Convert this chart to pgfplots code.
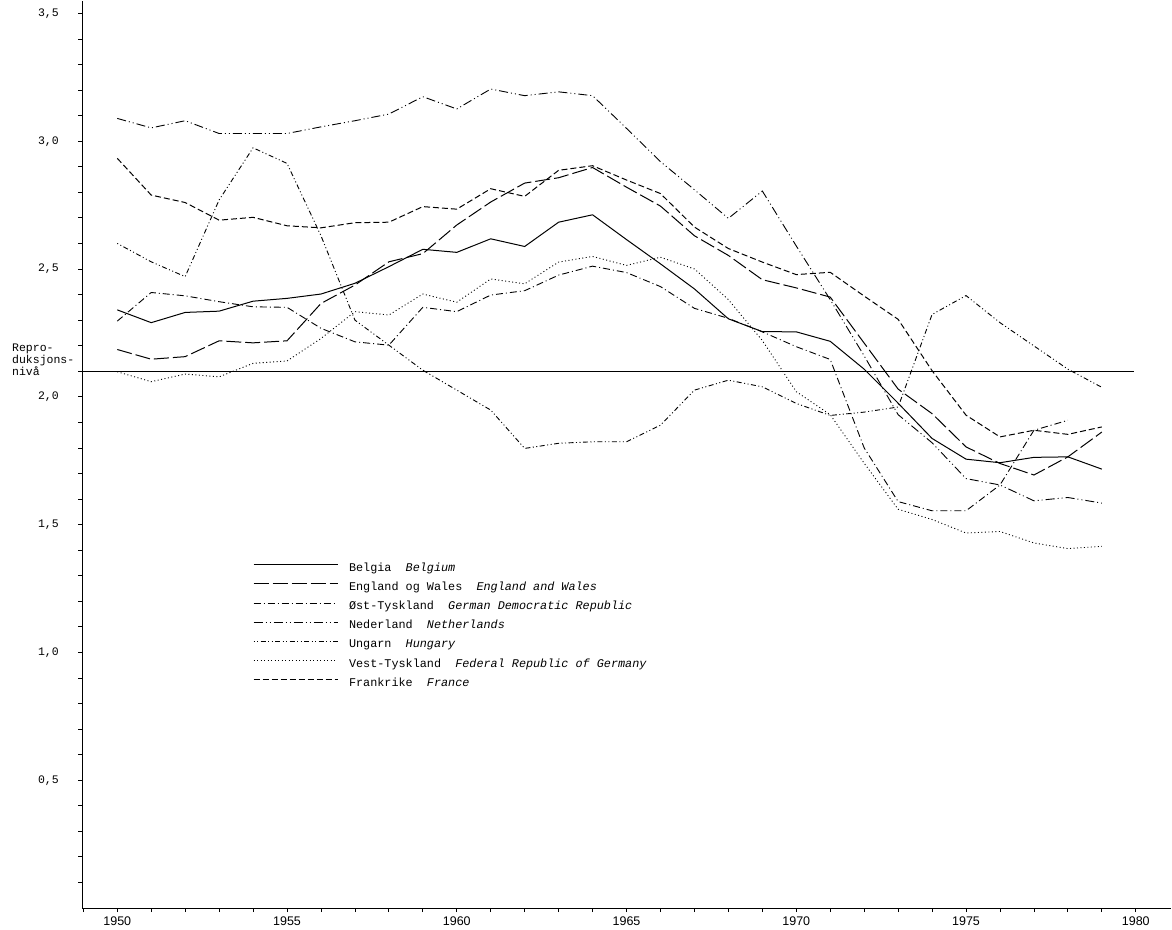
\documentclass[border=0pt]{standalone}
\usepackage{fontspec}
\newfontfamily\tw{Liberation Mono}
\newfontfamily\lsans{Liberation Sans}
\usepackage{pgfplots}
\pgfplotsset{compat=1.18}
\usepackage{pgfplotstable}

\pgfplotstableread{
year be    ew    gdr   nl    hu    wg    fr
1950 2.340 2.185 2.296 3.089 2.600 2.098 2.933
1951 2.290 2.147 2.408 3.052 2.528 2.059 2.789
1952 2.330 2.157 2.395 3.080 2.470 2.089 2.760
1953 2.335 2.219 2.372 3.030 2.770 2.078 2.691
1954 2.374 2.211 2.352 3.030 2.974 2.131 2.702
1955 2.385 2.219 2.350 3.030 2.913 2.140 2.669
1956 2.402 2.365 2.268 3.056 2.630 2.228 2.661
1957 2.444 2.437 2.215 3.080 2.300 2.333 2.681
1958 2.509 2.528 2.202 3.106 2.202 2.320 2.683
1959 2.577 2.560 2.350 3.174 2.104 2.402 2.744
1960 2.565 2.672 2.333 3.126 2.026 2.370 2.734
1961 2.618 2.762 2.398 3.204 1.948 2.461 2.814
1962 2.588 2.836 2.415 3.178 1.798 2.442 2.784
1963 2.683 2.857 2.476 3.193 1.818 2.527 2.886
1964 2.712 2.897 2.511 3.178 1.824 2.549 2.904
1965 2.615 2.820 2.486 3.050 1.824 2.514 2.848
1966 2.520 2.746 2.431 2.920 1.889 2.546 2.795
1967 2.422 2.630 2.346 2.810 2.026 2.500 2.664
1968 2.305 2.553 2.307 2.698 2.065 2.380 2.580
1969 2.255 2.458 2.254 2.805 2.039 2.220 2.527
1970 2.254 2.426 2.196 2.590 1.974 2.020 2.478
1971 2.217 2.390 2.146 2.380 1.927 1.930 2.487
1972 2.108 2.210 1.800 2.160 1.940 1.740 2.394
1973 1.975 2.030 1.590 1.930 1.960 1.560 2.303
1974 1.837 1.934 1.554 1.820 2.322 1.520 2.102
1975 1.756 1.804 1.554 1.680 2.396 1.467 1.928
1976 1.742 1.739 1.655 1.655 2.290 1.473 1.843
1977 1.763 1.694 1.869 1.593 2.199 1.428 1.869
1978 1.765 1.765 1.908 1.606 2.108 1.406 1.853
1979 1.717 1.862 nan   1.584 2.037 1.415 1.882
}\data

\begin{document}
\begin{tikzpicture}
\begin{axis}[
  scale only axis, width=1089.1pt, height=907.4pt,
  xmin=1948.97, xmax=1981.05, ymin=0, ymax=3.55,
  axis x line=bottom, axis y line=left,
  axis line style={-, line width=1pt, black},
  xtick={1950,1955,...,1980},
  xticklabels={1950,1955,1960,1965,1970,1975,1980},
  minor xtick={1949,1951,1952,1953,1954,1956,1957,1958,1959,1961,1962,1963,1964,1966,1967,1968,1969,1971,1972,1973,1974,1976,1977,1978,1979},
  ytick={0.5,1,1.5,2,2.5,3,3.5},
  yticklabels={{0,5},{1,0},{1,5},{2,0},{2,5},{3,0},{3,5}},
  minor ytick={0.1,0.2,0.3,0.4,0.6,0.7,0.8,0.9,1.1,1.2,1.3,1.4,1.6,1.7,1.8,1.9,2.1,2.2,2.3,2.4,2.6,2.7,2.8,2.9,3.1,3.2,3.3,3.4},
  tick align=outside, major tick length=4pt, minor tick length=4pt,
  tick style={black, line width=0.8pt},
  xticklabel style={font=\lsans\fontsize{12.5}{13}\selectfont, yshift=-1pt},
  yticklabel style={font=\tw\fontsize{11.5}{12}\selectfont, xshift=-16pt},
  clip=false,
  legend cell align=left,
  legend style={draw=none, fill=none, at={(axis cs:1954,1.353)}, anchor=north west,
    inner sep=0pt, outer sep=0pt, row sep=7.2pt, column sep=11pt,
    font=\tw\fontsize{11.8}{12}\selectfont,
    nodes={inner sep=0pt, text height=9pt, text depth=3pt}},
  legend image code/.code={\draw[#1] (0pt,3.5pt) -- (84pt,3.5pt);},
]
\coordinate (O) at (rel axis cs:0,0);
\addplot[black, line width=1pt] table[x=year,y=be]{\data};
\addlegendentry{Belgia\ \ \textit{Belgium}}
\addplot[black, line width=1pt, dash pattern=on 15pt off 4pt] table[x=year,y=ew]{\data};
\addlegendentry{England og Wales\ \ \textit{England and Wales}}
\addplot[black, line width=0.9pt, dash pattern=on 7pt off 3pt on 1pt off 3pt] table[x=year,y=gdr]{\data};
\addlegendentry{Øst-Tyskland\ \ \textit{German Democratic Republic}}
\addplot[black, line width=0.9pt, dash pattern=on 9pt off 3pt on 1pt off 3pt on 1pt off 3pt] table[x=year,y=nl]{\data};
\addlegendentry{Nederland\ \ \textit{Netherlands}}
\addplot[black, line width=0.9pt, dash pattern=on 1pt off 2.5pt on 1pt off 2.5pt on 5pt off 2.5pt] table[x=year,y=hu]{\data};
\addlegendentry{Ungarn\ \ \textit{Hungary}}
\addplot[black, line width=0.9pt, dash pattern=on 1pt off 2.5pt] table[x=year,y=wg]{\data};
\addlegendentry{Vest-Tyskland\ \ \textit{Federal Republic of Germany}}
\addplot[black, line width=1pt, dash pattern=on 6pt off 3pt] table[x=year,y=fr]{\data};
\addlegendentry{Frankrike\ \ \textit{France}}
\addplot[black, line width=0.9pt, forget plot] coordinates {(1948.97,2.1) (1979.95,2.1)};
\node[anchor=north west, inner sep=0pt, align=left, font=\tw\fontsize{11.5}{10}\selectfont]
  at ([xshift=-70.3pt,yshift=27pt]axis cs:1948.97,2.1) {Repro-\\duksjons-\\nivå};
\end{axis}
\pgfresetboundingbox
\path[use as bounding box] ([xshift=-82.3pt,yshift=-21pt]O) rectangle ([xshift=1089.7pt,yshift=908pt]O);
\end{tikzpicture}
\end{document}
